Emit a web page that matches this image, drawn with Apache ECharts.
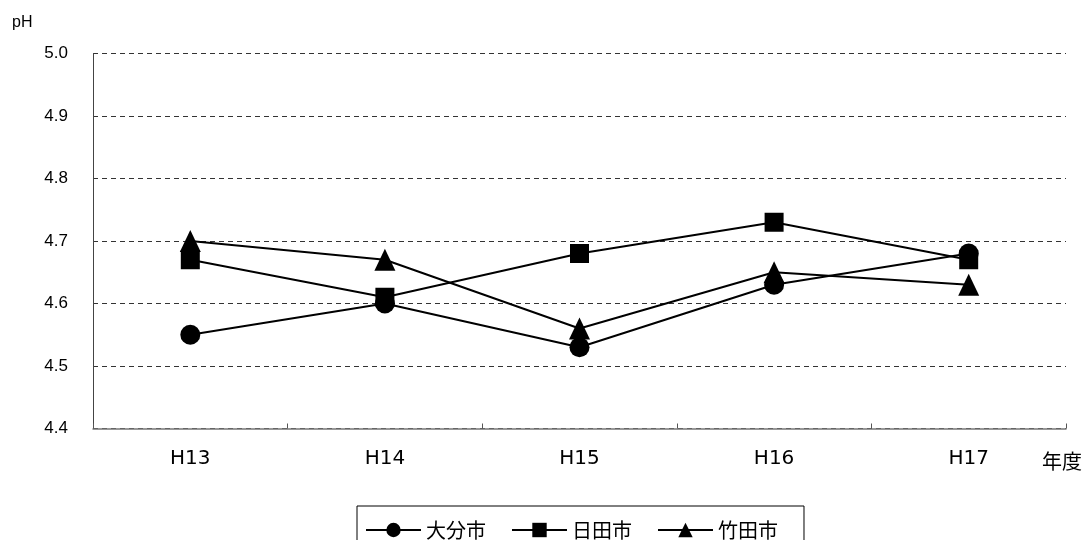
<!DOCTYPE html>
<html>
<head>
<meta charset="utf-8">
<script src="https://cdn.jsdelivr.net/npm/echarts@6/dist/echarts.min.js"></script>
<style>
  html, body { margin: 0; padding: 0; background: #fff; }
  #chart { width: 1085px; height: 540px; }
</style>
</head>
<body>
<div id="chart"></div>
<script>
// Fiscal years (Heisei era)
const years = ['H13', 'H14', 'H15', 'H16', 'H17'];

// Annual mean rainfall pH by city
const oitaPH  = [4.55, 4.60, 4.53, 4.63, 4.68]; // 大分市
const hitaPH  = [4.67, 4.61, 4.68, 4.73, 4.67]; // 日田市
const taketaPH = [4.70, 4.67, 4.56, 4.65, 4.63]; // 竹田市

const seriesNames = ['大分市', '日田市', '竹田市'];
const seriesData = [oitaPH, hitaPH, taketaPH];
const seriesSymbols = ['circle', 'rect', 'triangle'];
const seriesSymbolSizes = [20, 19, [21, 22]];

// pH axis range
const yMin = 4.4, yMax = 5.0, yStep = 0.1;

const latin = '"Liberation Sans", Arial, sans-serif';
const cjk = '"Noto Sans CJK JP", sans-serif';

const chart = echarts.init(document.getElementById('chart'), null, { renderer: 'canvas' });

chart.setOption({
  animation: false,
  backgroundColor: '#ffffff',
  grid: { left: 93, right: 19, top: 53.5, bottom: 111.5, containLabel: false },
  xAxis: {
    type: 'category',
    data: years,
    boundaryGap: true,
    axisLine: { lineStyle: { color: '#777', width: 1.5 } },
    axisTick: { show: true, inside: true, length: 5, lineStyle: { color: '#555', width: 1 } },
    axisLabel: { color: '#000', fontSize: 20, fontFamily: '"DejaVu Sans", sans-serif', margin: 20 },
    splitLine: { show: false }
  },
  yAxis: {
    type: 'value',
    min: yMin,
    max: yMax,
    interval: yStep,
    axisLine: { show: true, lineStyle: { color: '#444', width: 1 } },
    axisTick: { show: false },
    axisLabel: {
      color: '#000', fontSize: 17, fontFamily: latin, margin: 25,
      formatter: v => v.toFixed(1)
    },
    splitLine: { show: true, lineStyle: { color: '#333', width: 1, type: [5, 4] } }
  },
  legend: {
    left: 357,
    top: 506,
    orient: 'horizontal',
    data: seriesNames,
    itemWidth: 55,
    itemHeight: 18,
    itemGap: 25,
    padding: [14, 26, 8, 8],
    borderColor: '#000',
    borderWidth: 1,
    borderRadius: 0,
    backgroundColor: '#fff',
    textStyle: { color: '#000', fontSize: 20, fontFamily: cjk }
  },
  graphic: [
    { type: 'text', left: 12, top: 15, style: { text: 'pH', fontSize: 16, fontFamily: latin, fill: '#000' } },
    { type: 'text', left: 1042, top: 451, style: { text: '年度', fontSize: 20, fontFamily: cjk, fill: '#000' } }
  ],
  series: seriesNames.map((name, i) => ({
    name: name,
    type: 'line',
    data: seriesData[i],
    symbol: seriesSymbols[i],
    symbolSize: seriesSymbolSizes[i],
    showAllSymbol: true,
    lineStyle: { color: '#000', width: 2 },
    itemStyle: { color: '#000', borderColor: '#000', borderWidth: 0 },
    z: 3 - i
  }))
});
</script>
</body>
</html>
